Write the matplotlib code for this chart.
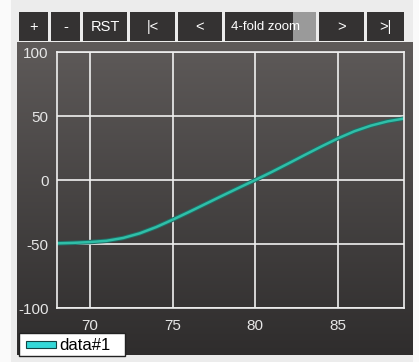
import numpy as np
import matplotlib
matplotlib.use("Agg")
import matplotlib.pyplot as plt
from matplotlib.patches import Rectangle

# data
x_vals = [68, 69, 70, 71, 72, 73, 74, 75, 76, 77, 78, 79, 80,
          81, 82, 83, 84, 85, 86, 87, 88, 89]
y_vals = [-49.5, -49.1, -48.5, -47.5, -45.3, -41.7, -36.8, -31.0, -24.9, -18.6, -12.3, -6.1, 0,
          6.3, 12.9, 19.6, 26.2, 32.5, 38.1, 42.5, 45.8, 48.0]
x_ticks = [70, 75, 80, 85]
y_ticks = [-100, -50, 0, 50, 100]
buttons = ["+", "-", "RST", "|<", "<", "4-fold zoom", ">", ">|"]
series_name = "data#1"

W, H = 419, 362
fig = plt.figure(figsize=(W / 100, H / 100), dpi=100)
fig.patch.set_facecolor("#fafafa")
fnt = ["Liberation Sans", "DejaVu Sans"]

# overlay in pixel coordinates for the widget chrome
ui = fig.add_axes([0, 0, 1, 1], zorder=0)
ui.set_xlim(0, W)
ui.set_ylim(H, 0)
ui.axis("off")
ui.add_patch(Rectangle((11, 0), 402, H, color="#ececec", lw=0))

# dark gradient panel
bg = fig.add_axes([17 / W, (H - 355) / H, 395 / W, 313 / H], zorder=1)
grad = np.linspace(0, 1, 256).reshape(-1, 1)
top = np.array([0x5e, 0x5a, 0x59]) / 255
bot = np.array([0x2f, 0x2d, 0x2d]) / 255
img = top[None, None, :] * (1 - grad[..., None]) + bot[None, None, :] * grad[..., None]
bg.imshow(img, aspect="auto", extent=[0, 1, 0, 1])
bg.axis("off")

# buttons
btn_x = [(19, 48), (51, 80), (83, 127), (130, 175), (178, 222), (225, 316), (319, 364), (367, 404)]
for (x0, x1), lab in zip(btn_x, buttons):
    ui.add_patch(Rectangle((x0, 12), x1 - x0, 29, color="#343232", lw=0))
    if lab == "4-fold zoom":
        ui.add_patch(Rectangle((293, 12), x1 - 293, 29, color="#9a9a9a", lw=0))
        ui.text(231, 27, lab, color="white", fontsize=9.5, family=fnt, ha="left", va="center")
    else:
        ui.text((x0 + x1) / 2, 27, lab, color="white", fontsize=10.5, family=fnt,
                ha="center", va="center")

# main plot
ax = fig.add_axes([57 / W, (H - 308) / H, 347 / W, 256 / H], zorder=2)
ax.set_facecolor("none")
ax.plot(x_vals, y_vals, color="#1f6e66", lw=3.2, solid_capstyle="round")
ax.plot(x_vals, y_vals, color="#2fbfa8", lw=1.8)
ax.set_xlim(68, 89)
ax.set_ylim(-100, 100)
ax.set_xticks(x_ticks)
ax.set_yticks(y_ticks)
ax.grid(True, color="#f0f0f0", lw=1.2)
for s in ax.spines.values():
    s.set_color("#f0f0f0")
    s.set_linewidth(1.2)
ax.tick_params(length=0, colors="#e6e6e6", labelsize=11)
ax.tick_params(axis="x", pad=8)
ax.tick_params(axis="y", pad=6)
ax.set_yticklabels(["-100", "-50", "0", "50", "100"])
for t in ax.get_xticklabels() + ax.get_yticklabels():
    t.set_family(fnt)

# legend box
lg = fig.add_axes([0, 0, 1, 1], zorder=3)
lg.set_xlim(0, W)
lg.set_ylim(H, 0)
lg.axis("off")
lg.add_patch(Rectangle((19, 333), 106, 23, facecolor="white", edgecolor="#222222", lw=1))
lg.add_patch(Rectangle((26, 341), 30, 7, facecolor="#33d8d8", edgecolor="#114444", lw=0.8))
lg.text(59, 345, series_name, color="black", fontsize=12, family=fnt, ha="left", va="center")

fig.savefig("out.png", dpi=100, facecolor=fig.get_facecolor())
